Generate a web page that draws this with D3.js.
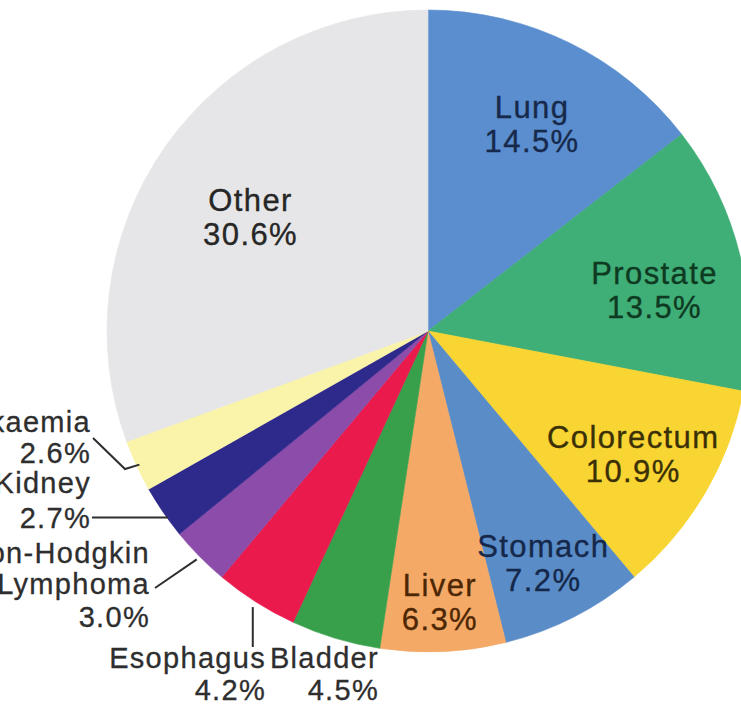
<!DOCTYPE html>
<html>
<head>
<meta charset="utf-8">
<script src="https://cdn.jsdelivr.net/npm/d3@7/dist/d3.min.js"></script>
<style>
  html, body { margin: 0; padding: 0; background: #ffffff; }
  svg { display: block; }
  text { font-family: "Liberation Sans", Arial, Helvetica, sans-serif; }
</style>
</head>
<body>
<svg id="chart" width="741" height="707"></svg>
<script>
// Share of new cancer cases by site (percent), clockwise from 12 o'clock
const categories = ["Lung", "Prostate", "Colorectum", "Stomach", "Liver", "Bladder",
                    "Esophagus", "Non-Hodgkin Lymphoma", "Kidney", "Leukaemia", "Other"];
const values = [14.5, 13.5, 10.9, 7.2, 6.3, 4.5, 4.2, 3.0, 2.7, 2.6, 30.6];
const labelLines = [["Lung"], ["Prostate"], ["Colorectum"], ["Stomach"], ["Liver"], ["Bladder"],
                    ["Esophagus"], ["Non-Hodgkin", "Lymphoma"], ["Kidney"], ["Leukaemia"], ["Other"]];

// Slice fills
const palette = ["#5a8ecf", "#40ae77", "#f8d532", "#5a8cc8", "#f4aa66", "#38a04b",
                 "#ea1a4d", "#8c4ca9", "#2e2a8c", "#faf4aa", "#e6e6e8"];
// Label ink for each slice
const ink = ["#17294a", "#0e3a22", "#3a3006", "#15284a", "#4d2604", "#2e2e2e",
             "#2e2e2e", "#2e2e2e", "#2e2e2e", "#2e2e2e", "#262626"];

const width = 741, height = 707;
const cx = 428, cy = 331, R = 321;

// Inside labels: radius of label block centre and a small angle nudge (degrees)
const inside = {
  "Lung":       { r: 230, da: 0.8 },
  "Prostate":   { r: 230, da: 3.6 },
  "Colorectum": { r: 240, da: 0.8 },
  "Stomach":    { r: 261, da: 0.8 },
  "Liver":      { r: 273, da: 0.2 },
  "Other":      { r: 210, da: -2.6 }
};
// Outside labels: end-aligned anchor, baseline offsets per row, leader definition
const outside = {
  "Bladder":              { x: 379, y: 668, gaps: [32], leader: null },
  "Esophagus":            { x: 266, y: 668, gaps: [32], leader: { r: 327, at: 0.5, kind: "vertical", toY: 647 } },
  "Non-Hodgkin Lymphoma": { x: 150, y: 563, gaps: [31, 33], leader: { r: 325, at: 0.5, pts: [[155, 588]] } },
  "Kidney":               { x: 91,  y: 493, gaps: [35], leader: { r: 320, at: 0.37, kind: "horizontal", toX: 92 } },
  "Leukaemia":            { x: 91,  y: 432, gaps: [31], leader: { r: 318, at: 0.5, pts: [[125, 469], [93, 438]] } }
};

const svg = d3.select("#chart");
svg.append("rect").attr("width", width).attr("height", height).attr("fill", "#ffffff");

const g = svg.append("g").attr("transform", `translate(${cx},${cy})`);

const data = categories.map((c, i) => ({ name: c, value: values[i], lines: labelLines[i], i }));
const pie = d3.pie().value(d => d.value).sort(null).startAngle(0).endAngle(2 * Math.PI);
const arcs = pie(data);
const arc = d3.arc().innerRadius(0).outerRadius(R);

g.selectAll("path.slice")
  .data(arcs)
  .join("path")
  .attr("class", "slice")
  .attr("d", arc)
  .attr("fill", d => palette[d.data.i])
  .attr("stroke", d => palette[d.data.i])
  .attr("stroke-width", 0.6);

const polar = (r, a) => [r * Math.sin(a), -r * Math.cos(a)];
const fmt = v => v.toFixed(1) + "%";

arcs.forEach(a => {
  const d = a.data;
  const mid = (a.startAngle + a.endAngle) / 2;
  const rows = [...d.lines, fmt(d.value)];
  if (inside[d.name]) {
    const spec = inside[d.name];
    const fs = 31, gap = 34;
    const [x, y] = polar(spec.r, mid + spec.da * Math.PI / 180);
    const t = g.append("text")
      .attr("text-anchor", "middle")
      .attr("font-size", fs)
      .attr("letter-spacing", 1.4)
      .attr("fill", ink[d.i])
      .attr("stroke", ink[d.i])
      .attr("stroke-width", 0.35);
    const top = y - (rows.length - 1) * gap / 2 + fs * 0.3;
    rows.forEach((s, k) => t.append("tspan").attr("x", x).attr("y", top + k * gap).text(s));
  } else if (outside[d.name]) {
    const spec = outside[d.name];
    const t = svg.append("text")
      .attr("text-anchor", "end")
      .attr("font-size", 29)
      .attr("letter-spacing", 1.3)
      .attr("fill", ink[d.i])
      .attr("stroke", ink[d.i])
      .attr("stroke-width", 0.3);
    let yy = spec.y;
    rows.forEach((s, k) => {
      if (k > 0) yy += spec.gaps[k - 1];
      t.append("tspan").attr("x", spec.x).attr("y", yy).text(s);
    });

    if (spec.leader) {
      const L = spec.leader;
      const ang = a.startAngle + (a.endAngle - a.startAngle) * L.at;
      const [sx, sy] = polar(L.r, ang);
      const start = [cx + sx, cy + sy];
      let pts;
      if (L.kind === "vertical") pts = [start, [start[0], L.toY]];
      else if (L.kind === "horizontal") pts = [start, [L.toX, start[1]]];
      else pts = [start, ...L.pts];
      svg.append("path")
        .attr("d", d3.line()(pts))
        .attr("fill", "none")
        .attr("stroke", "#2e2e2e")
        .attr("stroke-width", 2);
    }
  }
});
</script>
</body>
</html>
